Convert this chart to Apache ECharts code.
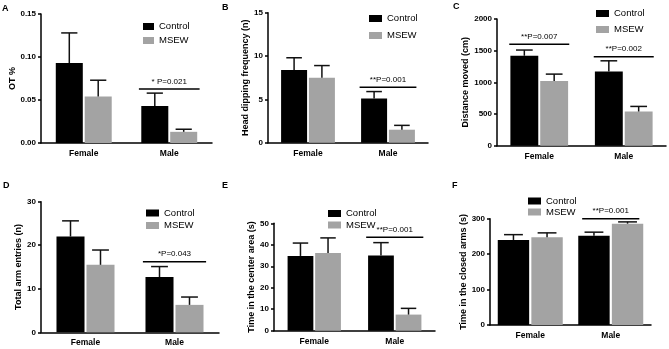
<!DOCTYPE html>
<html><head><meta charset="utf-8">
<script src="https://cdn.jsdelivr.net/npm/echarts@6/dist/echarts.min.js"></script>
<style>html,body{margin:0;padding:0;background:#fff}#c{width:669px;height:349px}</style>
</head><body><div id="c"></div>
<script>
const categories = ['Female', 'Male'];
const seriesNames = ['Control', 'MSEW'];

// Panel A: OT %
const aControl = [0.093, 0.043], aControlUpper = [0.128, 0.058];
const aMsew = [0.054, 0.013], aMsewUpper = [0.073, 0.016];
const aSigCat = [1], aSigY = [0.0628], aSigText = ['* P=0.021'];
// Panel B: Head dipping frequency
const bControl = [8.4, 5.1], bControlUpper = [9.8, 5.9];
const bMsew = [7.5, 1.5], bMsewUpper = [8.9, 2.0];
const bSigCat = [1], bSigY = [6.4], bSigText = ['**P=0.001'];
// Panel C: Distance moved
const cControl = [1420, 1170], cControlUpper = [1510, 1340];
const cMsew = [1020, 540], cMsewUpper = [1130, 620];
const cSigCat = [0, 1], cSigY = [1600, 1405], cSigText = ['**P=0.007', '**P=0.002'];
// Panel D: Total arm entries
const dControl = [22.0, 12.7], dControlUpper = [25.6, 15.1];
const dMsew = [15.5, 6.3], dMsewUpper = [18.9, 8.1];
const dSigCat = [1], dSigY = [16.2], dSigText = ['*P=0.043'];
// Panel E: Time in the center area
const eControl = [34.8, 35.0], eControlUpper = [40.8, 41.0];
const eMsew = [36.2, 7.5], eMsewUpper = [43.2, 10.4];
const eSigCat = [1], eSigY = [43.5], eSigText = ['**P=0.001'];
// Panel F: Time in the closed arms
const fControl = [240, 252], fControlUpper = [255, 262];
const fMsew = [248, 286], fMsewUpper = [260, 291];
const fSigCat = [1], fSigY = [300], fSigText = ['**P=0.001'];

const yTitles = ['OT %', 'Head dipping frequency (n)', 'Distance moved (cm)', 'Total arm entries (n)', 'Time in the center area (s)', 'Time in the closed arms (s)'];
const yMax = [0.15, 15, 2000, 30, 50, 300];
const yStep = [0.05, 5, 500, 10, 10, 100];
const yDecimals = [2, 0, 0, 0, 0, 0];
const panelLetters = ['A', 'B', 'C', 'D', 'E', 'F'];

const FONT = '"Liberation Sans", Arial, sans-serif';
const layout = [
  {left: 41, top: 14, width: 171, height: 129, gap: 24, bw: 0.316, letter: [2, 4], legend: [143, 21.5, 4, 11]},
  {left: 268, top: 12.7, width: 160, height: 130, gap: 12.5, bw: 0.325, letter: [222, 3], legend: [369, 13.5, 7, 13]},
  {left: 497, top: 19, width: 169, height: 126.7, gap: 20.5, bw: 0.33, letter: [453, 2], legend: [596, 8.5, 6, 13]},
  {left: 41, top: 201.7, width: 178, height: 130.6, gap: 14.5, bw: 0.315, letter: [3, 181], legend: [146, 208, 2.5, 13]},
  {left: 274, top: 223.3, width: 161, height: 107.4, gap: 12, bw: 0.32, letter: [222, 181], legend: [328, 208.5, 1.5, 13]},
  {left: 490, top: 218.7, width: 161, height: 106.3, gap: 15, bw: 0.39, letter: [452, 181], legend: [528, 196, 1, 13]}
];
const panels = [
  [aControl, aControlUpper, aMsew, aMsewUpper, aSigCat, aSigY, aSigText],
  [bControl, bControlUpper, bMsew, bMsewUpper, bSigCat, bSigY, bSigText],
  [cControl, cControlUpper, cMsew, cMsewUpper, cSigCat, cSigY, cSigText],
  [dControl, dControlUpper, dMsew, dMsewUpper, dSigCat, dSigY, dSigText],
  [eControl, eControlUpper, eMsew, eMsewUpper, eSigCat, eSigY, eSigText],
  [fControl, fControlUpper, fMsew, fMsewUpper, fSigCat, fSigY, fSigText]
];
const colors = ['#000000', '#a3a3a3'];
const GAPF = 0.07;

const grid = [], xAxis = [], yAxis = [], series = [], legend = [], graphic = [];
panels.forEach((p, i) => {
  const L = layout[i];
  grid.push({left: L.left, top: L.top, width: L.width, height: L.height, containLabel: false});
  xAxis.push({type: 'category', gridIndex: i, data: categories,
    axisLine: {lineStyle: {color: '#000', width: 1.5}}, axisTick: {show: false},
    axisLabel: {color: '#000', fontWeight: 'bold', fontSize: 8.5, fontFamily: FONT, margin: 6}});
  yAxis.push({type: 'value', gridIndex: i, min: 0, max: yMax[i], interval: yStep[i],
    name: yTitles[i], nameLocation: 'middle', nameGap: L.gap,
    nameTextStyle: {color: '#000', fontWeight: 'bold', fontSize: 9, fontFamily: FONT},
    axisLine: {show: true, lineStyle: {color: '#000', width: 1.5}},
    axisTick: {show: true, length: 3, lineStyle: {color: '#000', width: 1.5}},
    splitLine: {show: false},
    axisLabel: {color: '#000', fontWeight: 'bold', fontSize: 8, fontFamily: FONT, margin: 5,
      formatter: v => v.toFixed(yDecimals[i])}});
  [0, 1].forEach(s => {
    const vals = p[s * 2], upp = p[s * 2 + 1];
    series.push({type: 'bar', name: seriesNames[s], xAxisIndex: i, yAxisIndex: i,
      data: vals, barWidth: (L.bw * 100) + '%', barGap: (GAPF * 100) + '%',
      itemStyle: {color: colors[s]}, silent: true});
    const side = s === 0 ? -1 : 1;
    series.push({type: 'custom', xAxisIndex: i, yAxisIndex: i, z: 5, silent: true,
      data: categories.map((c, j) => [j, vals[j], upp[j]]),
      renderItem: (params, api) => {
        const c = api.value(0), v = api.value(1), u = api.value(2);
        const p0 = api.coord([c, v]), p1 = api.coord([c, u]);
        const band = api.size([1, 0])[0];
        const bw = band * L.bw, off = side * (bw + bw * GAPF) / 2;
        const x = p0[0] + off, cap = bw * 0.3;
        const st = {stroke: '#111', lineWidth: 1.5};
        return {type: 'group', children: [
          {type: 'line', shape: {x1: x, y1: p0[1], x2: x, y2: p1[1]}, style: st},
          {type: 'line', shape: {x1: x - cap, y1: p1[1], x2: x + cap, y2: p1[1]}, style: st}
        ]};
      }});
  });
  const sigCat = p[4], sigY = p[5], sigText = p[6];
  series.push({type: 'custom', xAxisIndex: i, yAxisIndex: i, z: 6, silent: true,
    data: sigCat.map((c, j) => [c, sigY[j]]),
    renderItem: (params, api) => {
      const pt = api.coord([api.value(0), api.value(1)]);
      const band = api.size([1, 0])[0];
      const half = band * 0.355;
      return {type: 'group', children: [
        {type: 'line', shape: {x1: pt[0] - half, y1: pt[1], x2: pt[0] + half, y2: pt[1]}, style: {stroke: '#000', lineWidth: 1.5}},
        {type: 'text', style: {x: pt[0], y: pt[1] - 7.5, text: sigText[params.dataIndex], align: 'center', verticalAlign: 'middle',
          fontSize: 8, fontFamily: FONT, fill: '#000'}}
      ]};
    }});
  legend.push({data: seriesNames, orient: 'vertical', left: L.legend[0], top: L.legend[1], itemGap: L.legend[2],
    padding: 0, itemWidth: L.legend[3], itemHeight: 7, icon: 'rect', selectedMode: false,
    textStyle: {color: '#000', fontSize: 9.5, fontFamily: FONT}});
  graphic.push({type: 'text', left: L.letter[0], top: L.letter[1],
    style: {text: panelLetters[i], fontSize: 9, fontWeight: 'bold', fontFamily: FONT, fill: '#000'}});
});

const chart = echarts.init(document.getElementById('c'), null, {renderer: 'canvas'});
chart.setOption({animation: false, backgroundColor: '#fff', grid, xAxis, yAxis, series, legend, graphic});
</script></body></html>
